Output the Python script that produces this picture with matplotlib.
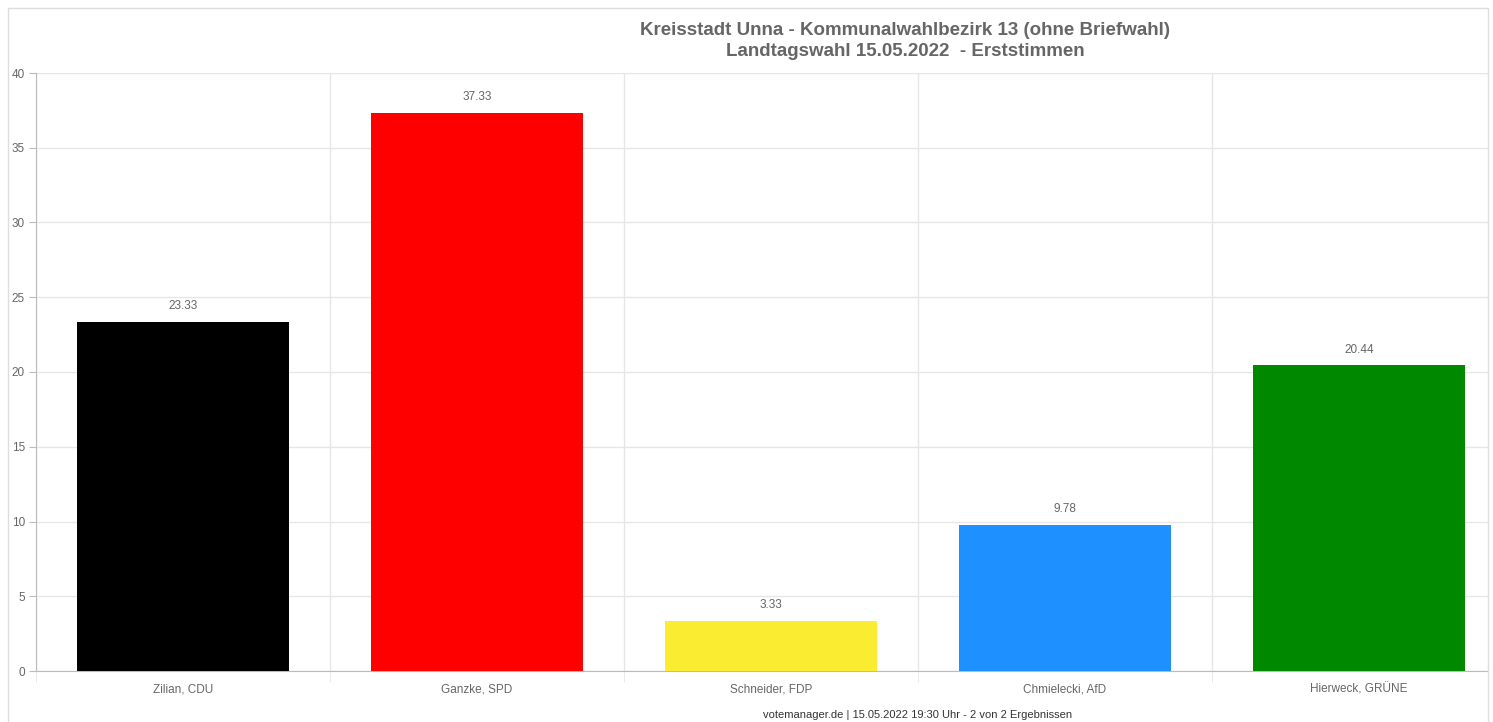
import numpy as np
import matplotlib
matplotlib.use('Agg')
import matplotlib.pyplot as plt
from matplotlib.patches import Rectangle

# Daten
kandidaten = ['Zilian, CDU', 'Ganzke, SPD', 'Schneider, FDP', 'Chmielecki, AfD', 'Hierweck, GRÜNE']
prozente = [23.33, 37.33, 3.33, 9.78, 20.44]
farben = ['#000000', '#ff0000', '#f9ec31', '#1e90ff', '#008800']
titel = 'Kreisstadt Unna - Kommunalwahlbezirk 13 (ohne Briefwahl)\nLandtagswahl 15.05.2022  - Erststimmen'
fusszeile = 'votemanager.de | 15.05.2022 19:30 Uhr - 2 von 2 Ergebnissen'

plt.rcParams['font.family'] = ['Liberation Sans', 'DejaVu Sans']
W, H = 1493, 722
textfarbe = '#666666'
gitter = '#e6e6e6'


def main():
    fig = plt.figure(figsize=(W / 100, H / 100), dpi=100)
    # Plotbereich wird rechts am Rahmen abgeschnitten (wie im Original)
    ax = fig.add_axes([36 / W, 51 / H, 1452 / W, 598 / H])

    x = np.arange(len(kandidaten))
    ax.bar(x, prozente, width=0.72, color=farben, zorder=3)
    for xi, v in zip(x, prozente):
        ax.annotate(f'{v:.2f}', (xi, v), xytext=(0, 7), textcoords='offset points',
                    ha='center', va='bottom', fontsize=8.5, color=textfarbe)

    ax.set_xlim(-0.5, len(kandidaten) - 0.5 - 18 / 294)
    ax.set_ylim(0, 40)
    ax.set_yticks(range(0, 41, 5))
    ax.tick_params(axis='y', labelsize=8.5, labelcolor=textfarbe, color='#bbbbbb', length=5, pad=3)
    ax.set_xticks(x)
    ax.set_xticklabels(kandidaten)
    ax.tick_params(axis='x', labelsize=8.5, labelcolor=textfarbe, length=0, pad=9)
    ax.set_xticks(np.arange(len(kandidaten)) - 0.5, minor=True)
    ax.tick_params(axis='x', which='minor', length=8, color=gitter)

    ax.grid(axis='y', color=gitter, linewidth=1, zorder=0)
    ax.grid(axis='x', which='minor', color=gitter, linewidth=1, zorder=0)
    for s in ['top', 'right']:
        ax.spines[s].set_visible(False)
    ax.spines['left'].set_color('#bbbbbb')
    ax.spines['bottom'].set_color('#bbbbbb')

    fig.text(905 / W, 1 - 41 / H, titel, ha='center', va='center', fontsize=13.5,
             fontweight='bold', color=textfarbe, linespacing=1.25)
    fig.text(918 / W, 1 - 715 / H, fusszeile, ha='center', va='center', fontsize=8,
             color='#333333')
    fig.patches.append(Rectangle((8 / W, -0.1), 1480 / W, 1.1 - 8 / H, transform=fig.transFigure,
                                 fill=False, edgecolor='#dddddd', linewidth=1))

    fig.savefig('out.png', dpi=100)


if __name__ == '__main__':
    main()
